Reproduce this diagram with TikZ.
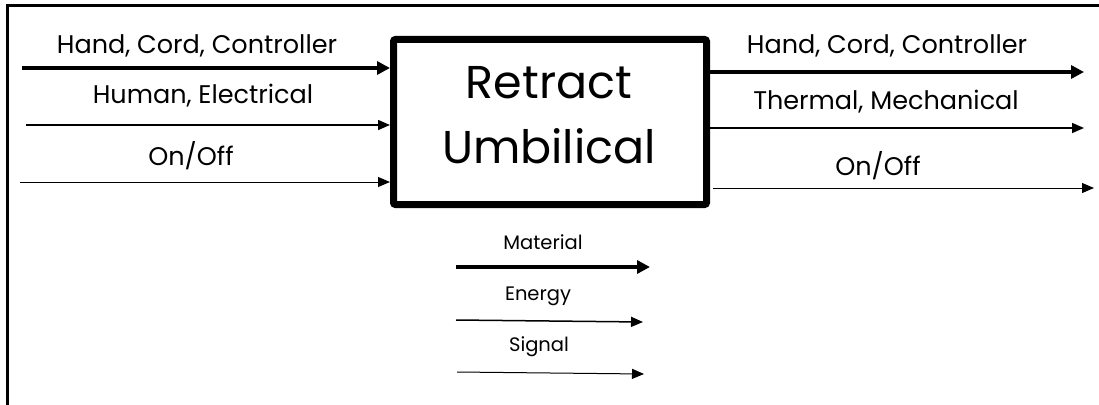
\documentclass[tikz,border=0pt]{standalone}
\usepackage{fontspec}
\setmainfont{Poppins}
\usetikzlibrary{arrows.meta}
\begin{document}
\begin{tikzpicture}[x=1pt,y=-1pt,
  flowlabel/.style={font=\fontsize{25.5}{30}\selectfont, inner sep=0pt},
  legendlabel/.style={font=\fontsize{19.5}{23}\selectfont, inner sep=0pt},
  material/.style={line width=4pt, -{Triangle[length=13pt,width=13pt]}},
  energy/.style={line width=1.5pt, -{Triangle[length=12pt,width=10pt]}},
  signal/.style={line width=1pt, -{Triangle[length=12pt,width=10pt]}},
  funcbox/.style={draw, line width=7pt, rounded corners=2pt, minimum width=313pt,
    minimum height=165pt, inner sep=0pt, align=center,
    font=\fontsize{46}{65}\selectfont}]
  \useasboundingbox (0,0) rectangle (1099,404);
  % outer frame, running off the right and bottom edges
  \draw[line width=2.5pt] (7.5,420) -- (7.5,5.5) -- (1120,5.5);

  % function block
  \node[funcbox] (fn) at (550,122) {};
  \node[font=\fontsize{46}{65}\selectfont, align=center, inner sep=0pt]
    (fnl) at (549,115) {Retract\\Umbilical};

  % inputs
  \coordinate (inM) at (22,68);
  \coordinate (inE) at (26,125);
  \coordinate (inS) at (20,182);
  \draw[material] (inM) -- (inM -| fn.west);
  \draw[energy] (inE) -- (inE -| fn.west);
  \draw[signal] (inS) -- (inS -| fn.west);
  \node[flowlabel] (inMl) at (197,46) {Hand, Cord, Controller};
  \node[flowlabel] (inEl) at (203,96) {Human, Electrical};
  \node[flowlabel] (inSl) at (191,156) {On/Off};

  % outputs
  \coordinate (outM) at (1084,72);
  \coordinate (outE) at (1084,128);
  \coordinate (outS) at (1094,188);
  \draw[material] (outM -| fn.east) -- (outM);
  \draw[energy] (outE -| fn.east) -- (outE);
  \draw[signal] ([xshift=3pt]outS -| fn.east) -- (outS);
  \node[flowlabel] (outMl) at (887,46) {Hand, Cord, Controller};
  \node[flowlabel] (outEl) at (886,102) {Thermal, Mechanical};
  \node[flowlabel] (outSl) at (878,166) {On/Off};

  % legend
  \coordinate (lgMa) at (456,267);
  \coordinate (lgMb) at (650,267);
  \coordinate (lgEa) at (456,320);
  \coordinate (lgEb) at (643,322);
  \coordinate (lgSa) at (457,372);
  \coordinate (lgSb) at (644,374);
  \draw[material] (lgMa) -- (lgMb);
  \draw[energy] (lgEa) -- (lgEb);
  \draw[signal] (lgSa) -- (lgSb);
  \node[legendlabel] (lgMl) at (543,242) {Material};
  \node[legendlabel] (lgEl) at (538,296) {Energy};
  \node[legendlabel] (lgSl) at (539,347) {Signal};
\end{tikzpicture}
\end{document}
